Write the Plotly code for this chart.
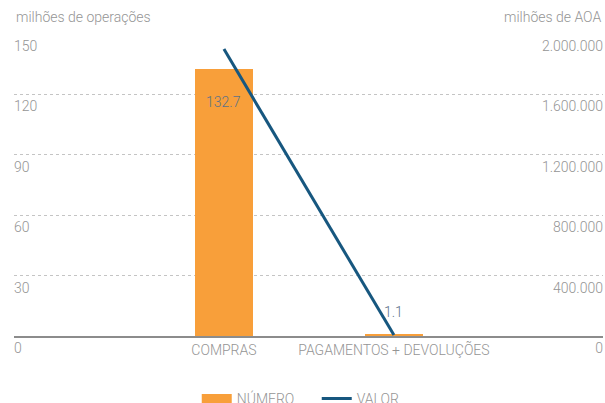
import plotly.graph_objects as go

# Card transactions: number of operations (bars) and value (line)
categories = ["COMPRAS", "PAGAMENTOS + DEVOLUÇÕES"]
numero = [132.7, 1.1]            # milhões de operações
valor = [1900000, 6000]          # milhões de AOA

left_ticks = [0, 30, 60, 90, 120, 150]
right_ticks = [0, 400000, 800000, 1200000, 1600000, 2000000]
right_tick_labels = ["0", "400.000", "800.000", "1.200.000", "1.600.000", "2.000.000"]

GRAY = "#959595"
AXIS = "#8c8c8c"
ORANGE = "#f89f3a"
BLUE = "#17577f"
LABEL = "#5b7288"
FONT = dict(family="Roboto", size=14, color=GRAY, weight=300)

fig = go.Figure()

fig.add_trace(go.Bar(
    x=categories, y=numero, width=0.34,
    marker=dict(color=ORANGE, line=dict(width=0)),
    showlegend=False, hoverinfo="skip",
))

# legend entry for the bars drawn as a wide swatch
fig.add_trace(go.Scatter(
    x=[None], y=[None], mode="lines", name="NÚMERO",
    line=dict(color=ORANGE, width=9),
))

fig.add_trace(go.Scatter(
    x=categories, y=valor, yaxis="y2", mode="lines", name="VALOR",
    line=dict(color=BLUE, width=3),
))

# value labels for the bars
shifts = [-33, 22]
for cat, val, sh in zip(categories, numero, shifts):
    fig.add_annotation(
        x=cat, y=val, xref="x", yref="y", text=f"{val:.1f}",
        showarrow=False, yshift=sh,
        font=dict(family="Roboto", size=14, color=LABEL, weight=300),
    )

# axis titles above the plot
fig.add_annotation(x=0, y=1, xref="paper", yref="paper", xanchor="left",
                   yanchor="bottom", yshift=7, showarrow=False,
                   text="milhões de operações", font=FONT)
fig.add_annotation(x=1, y=1, xref="paper", yref="paper", xanchor="right",
                   yanchor="bottom", yshift=7, showarrow=False,
                   text="milhões de AOA", font=FONT)

fig.update_layout(
    width=605, height=403,
    margin=dict(l=14, r=2, t=34, b=67, autoexpand=False),
    paper_bgcolor="white", plot_bgcolor="white",
    font=FONT,
    bargap=0,
    xaxis=dict(
        type="category", range=[-1.235, 2.23],
        showgrid=False, zeroline=False, automargin=False,
        showline=True, linecolor=AXIS, linewidth=2,
        ticks="", tickfont=FONT,
    ),
    yaxis=dict(
        range=[0, 150], tickvals=left_ticks, automargin=False,
        showgrid=True, gridcolor="#c4c4c4", gridwidth=1, griddash="3px,3px",
        zeroline=False, showline=False, ticks="",
        ticklabelposition="inside", ticklabelshift=12,
        ticklabelstandoff=-3, ticklabeloverflow="allow",
        tickfont=FONT,
    ),
    yaxis2=dict(
        range=[0, 2000000], overlaying="y", side="right", automargin=False,
        tickvals=right_ticks, ticktext=right_tick_labels,
        showgrid=False, zeroline=False, showline=False, ticks="",
        ticklabelposition="inside", ticklabelshift=12,
        ticklabelstandoff=-3, ticklabeloverflow="allow",
        tickfont=FONT,
    ),
    legend=dict(
        orientation="h", x=0.514, xanchor="center", y=-0.155, yanchor="top",
        font=FONT, itemwidth=30, tracegroupgap=0,
        entrywidth=75, entrywidthmode="pixels",
    ),
)

fig.write_html("out.html")
